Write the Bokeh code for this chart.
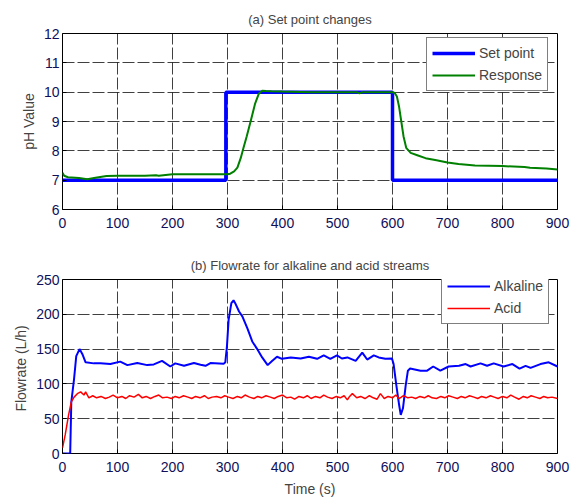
from bokeh.plotting import figure
from bokeh.layouts import column
from bokeh.models import Legend, LegendItem, FixedTicker, Range1d
from bokeh.embed import file_html
from bokeh.resources import INLINE

# ---------------- data: (a) set point changes ----------------
sp_t = [0, 297, 297, 600, 600, 900]
sp_v = [7, 7, 10, 10, 7, 7]

resp_t = [0, 3, 10, 30, 45, 60, 80, 100, 150, 170, 175, 200, 250, 290, 300, 305,
          312, 318, 324, 329, 335, 342, 350, 357, 363, 370, 380, 400, 450, 500,
          535, 540, 545, 580, 600, 604, 608, 612, 616, 620, 625, 633, 645, 660,
          680, 700, 720, 750, 800, 840, 850, 880, 900]
resp_v = [7.25, 7.15, 7.1, 7.07, 7.03, 7.08, 7.14, 7.15, 7.15, 7.17, 7.15, 7.2, 7.2, 7.2, 7.2, 7.22,
          7.3, 7.43, 7.75, 8.1, 8.5, 9.0, 9.6, 9.95, 10.05, 10.04, 10.03, 10.02, 10.0, 10.0,
          10.0, 9.96, 10.0, 10.0, 10.0, 9.97, 9.85, 9.5, 9.0, 8.5, 8.1, 7.93, 7.85, 7.75,
          7.68, 7.6, 7.55, 7.5, 7.48, 7.45, 7.42, 7.4, 7.36]

# ---------------- data: (b) flowrates ----------------
alk_t = [0, 14, 16, 21, 25, 31, 36, 42, 57, 69, 87, 105, 118, 136, 154, 166, 181, 196,
         205, 221, 239, 251, 260, 269, 293, 296, 299, 302, 307, 311, 314, 321, 327, 336,
         345, 354, 363, 373, 381, 390, 399, 415, 433, 448, 463, 475, 487, 499, 508, 518,
         533, 545, 554, 566, 575, 587, 599, 602, 607, 612, 615, 619, 624, 628, 632, 651,
         663, 674, 687, 702, 721, 733, 742, 760, 772, 784, 802, 818, 831, 842, 851, 869,
         884, 900]
alk_v = [0, 0, 74, 107, 140, 150, 143, 131, 129.5, 129.5, 128.5, 132, 127, 130, 127, 128, 133, 125,
         129.5, 126, 130, 127.6, 126, 130, 129, 131, 154, 192, 216, 220, 216, 204, 197, 180,
         161, 150, 138, 127, 133, 139, 136, 138, 136.5, 139, 136, 141, 136, 141, 136.5, 138,
         133, 145, 135, 141, 138, 136, 136.5, 128.5, 98, 70, 55.5, 65, 98, 119, 122, 119,
         119, 125, 119, 125, 126, 128.5, 125, 129.5, 126, 129.5, 125, 128.5, 122, 126, 123, 128.5,
         131, 125]

acid_t = [0, 5, 11, 16, 21, 27, 33, 39, 42, 48,
          55, 62, 70, 78, 85, 92, 100, 108, 115, 122, 130, 138, 145, 152, 160, 168, 175, 182, 190,
          198, 205, 212, 220, 228, 235, 242, 250, 258, 265, 272, 280, 288, 295, 302, 310, 318,
          325, 332, 340, 348, 355, 362, 370, 378, 385, 392, 400, 408, 415, 422, 430, 438, 445,
          452, 460, 468, 475, 482, 490, 498, 505, 512, 518, 522, 527, 535, 542, 550, 558, 565,
          572, 578, 585, 592, 600, 606, 612, 620, 628, 635, 642, 650, 658, 665, 672, 680, 688,
          695, 702, 710, 718, 725, 732, 740, 748, 755, 762, 770, 778, 785, 792, 800, 808, 815,
          822, 830, 838, 845, 852, 860, 868, 875, 882, 890, 900]
acid_v = [8, 27, 55, 74, 81, 86, 88.5, 84, 88.5, 80,
          83, 80, 82, 79, 81, 84, 80, 82, 79, 83, 81, 85, 80, 82, 79, 82, 84, 80, 81,
          79, 82, 80, 83, 81, 79, 82, 80, 83, 79, 81, 82, 80, 83, 81, 79, 82,
          80, 84, 81, 79, 82, 80, 83, 81, 79, 82, 84, 80, 81, 78, 82, 80, 83,
          79, 82, 80, 84, 81, 79, 82, 80, 83, 77, 82, 86, 80, 82, 79, 83, 80,
          78, 86, 79, 82, 80, 84, 79, 83, 80, 81, 79, 82, 80, 83, 80, 79, 82,
          80, 83, 81, 79, 82, 80, 83, 81, 79, 82, 80, 83, 81, 79, 82, 80, 84,
          81, 78, 82, 80, 83, 81, 79, 82, 80, 81, 79]

x_ticks = [0, 100, 200, 300, 400, 500, 600, 700, 800, 900]
ph_ticks = [6, 7, 8, 9, 10, 11, 12]
flow_ticks = [0, 50, 100, 150, 200, 250]

FONT = "Liberation Sans"
BLUE = "#0000FF"
GREEN = "#008000"
RED = "#FF0000"


def style(p, xticks, yticks):
    p.title.text_font = FONT
    p.title.text_font_size = "13px"
    p.title.text_font_style = "normal"
    p.title.align = "center"
    p.title.standoff = 13
    p.outline_line_color = "black"
    p.outline_line_width = 1
    p.outline_line_alpha = 1
    for ax in (p.xaxis[0], p.yaxis[0]):
        ax.axis_line_color = None
        ax.major_tick_in = 4
        ax.major_tick_out = 0
        ax.minor_tick_line_color = None
        ax.major_label_text_font = FONT
        ax.major_label_text_font_size = "14px"
        ax.major_label_text_color = "#10105a"
        ax.axis_label_text_font = FONT
        ax.axis_label_text_font_size = "14px"
        ax.axis_label_text_font_style = "normal"
        ax.axis_label_standoff = 4
    p.xaxis[0].major_label_standoff = 8
    p.yaxis[0].major_label_standoff = 3
    p.xaxis[0].ticker = FixedTicker(ticks=xticks)
    p.yaxis[0].ticker = FixedTicker(ticks=yticks)
    for g in (p.xgrid[0], p.ygrid[0]):
        g.grid_line_color = "black"
        g.grid_line_alpha = 0.75
        g.grid_line_dash = "12 3"
        g.grid_line_width = 1
    p.background_fill_color = "white"
    p.border_fill_color = "white"


# ---------------- figure (a) ----------------
p1 = figure(width=581, height=248, output_backend="svg", toolbar_location=None,
            title="(a) Set point changes",
            x_range=Range1d(0, 900), y_range=Range1d(6, 12),
            min_border_left=62, min_border_right=24, min_border_top=33, min_border_bottom=39)
style(p1, x_ticks, ph_ticks)
p1.yaxis[0].axis_label = "pH Value"
r_sp = p1.line(sp_t, sp_v, line_color=BLUE, line_width=3.5)
r_resp = p1.line(resp_t, resp_v, line_color=GREEN, line_width=2)
leg1 = Legend(items=[LegendItem(label="Set point", renderers=[r_sp]),
                     LegendItem(label="Response", renderers=[r_resp])],
              location=(364, 118))
p1.add_layout(leg1, "center")

# ---------------- figure (b) ----------------
p2 = figure(width=581, height=251, output_backend="svg", toolbar_location=None,
            title="(b) Flowrate for alkaline and acid streams",
            x_range=Range1d(0, 900), y_range=Range1d(0, 250),
            min_border_left=62, min_border_right=24, min_border_top=31, min_border_bottom=43)
style(p2, x_ticks, flow_ticks)
p2.yaxis[0].axis_label = "Flowrate  (L/h)"
p2.xaxis[0].axis_label = "Time (s)"
p2.xaxis[0].axis_label_standoff = 6
r_alk = p2.line(alk_t, alk_v, line_color=BLUE, line_width=2)
r_acid = p2.line(acid_t, acid_v, line_color=RED, line_width=1.5)
leg2 = Legend(items=[LegendItem(label="Alkaline", renderers=[r_alk]),
                     LegendItem(label="Acid", renderers=[r_acid])],
              location=(379, 129))
p2.add_layout(leg2, "center")

for leg in (leg1, leg2):
    leg.label_text_font = FONT
    leg.label_text_font_size = "14px"
    leg.border_line_color = "black"
    leg.border_line_width = 1
    leg.glyph_width = 43
    leg.glyph_height = 20
    leg.label_height = 20
    leg.spacing = 2
    leg.padding = 5
    leg.margin = 0
    leg.label_standoff = 4
    leg.background_fill_alpha = 1

layout = column(p1, p2, spacing=0)
open("out.html", "w").write(file_html(layout, INLINE))
